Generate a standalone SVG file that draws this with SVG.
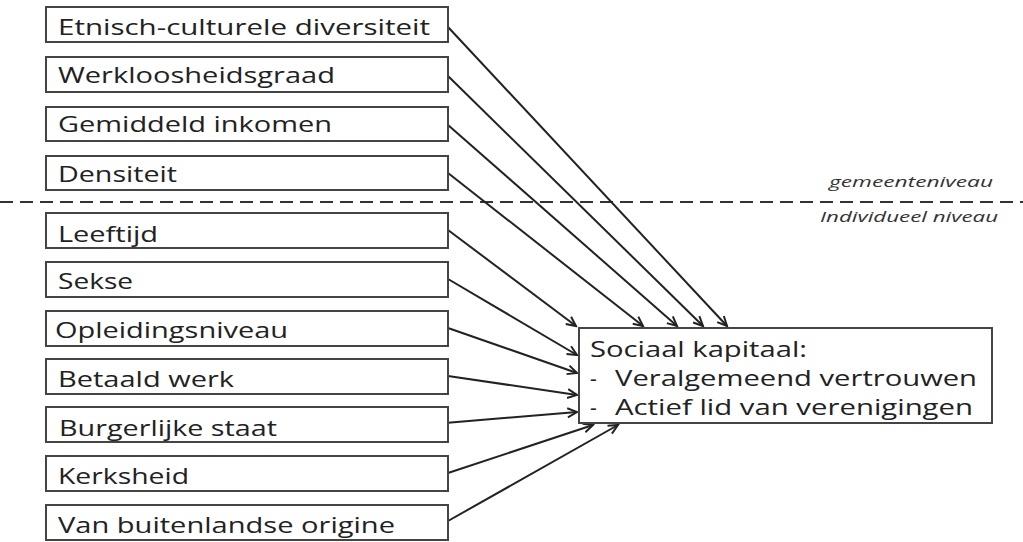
<svg xmlns="http://www.w3.org/2000/svg" width="1023" height="542" viewBox="0 0 1023 542">
<style>
.box{fill:#fff;stroke:#444;stroke-width:2}
.t{font-family:"Open Sans","Noto Sans",sans-serif;font-size:21px;fill:#222}
.lbl{font-family:"Open Sans","Noto Sans",sans-serif;font-size:15px;font-style:italic;fill:#333}
.c{stroke:#222;stroke-width:2;fill:none;marker-end:url(#ah)}
</style>
<defs>
<marker id="ah" markerUnits="userSpaceOnUse" markerWidth="12" markerHeight="12" refX="10" refY="5" orient="auto" viewBox="0 0 12 10">
<path d="M0.5,0.5 L10,5 L0.5,9.5" fill="none" stroke="#222" stroke-width="2"/>
</marker>
</defs>
<rect width="1023" height="542" fill="#fff"/>
<line x1="0" y1="202" x2="1023" y2="202" stroke="#333" stroke-width="2" stroke-dasharray="13,7"/>
<text class="lbl" x="829" y="187" textLength="164" lengthAdjust="spacingAndGlyphs">gemeenteniveau</text>
<text class="lbl" x="820" y="222" textLength="178" lengthAdjust="spacingAndGlyphs">Individueel niveau</text>
<g id="connectors">
<line class="c" x1="448" y1="27" x2="727" y2="326"/>
<line class="c" x1="448" y1="76" x2="703" y2="326"/>
<line class="c" x1="448" y1="125" x2="677" y2="326"/>
<line class="c" x1="448" y1="173" x2="643" y2="326"/>
<line class="c" x1="448" y1="230" x2="576" y2="326"/>
<line class="c" x1="448" y1="279" x2="577" y2="355"/>
<line class="c" x1="448" y1="328" x2="577" y2="373"/>
<line class="c" x1="448" y1="376" x2="577" y2="395"/>
<line class="c" x1="445" y1="423" x2="577" y2="412"/>
<line class="c" x1="448" y1="473" x2="593" y2="425"/>
<line class="c" x1="448" y1="521" x2="618" y2="425"/>
</g>
<g id="n1"><rect class="box" x="46" y="7" width="402" height="35"/><text class="t" x="58" y="35" textLength="372" lengthAdjust="spacingAndGlyphs">Etnisch-culturele diversiteit</text></g>
<g id="n2"><rect class="box" x="46" y="57" width="402" height="35"/><text class="t" x="58" y="83" textLength="277" lengthAdjust="spacingAndGlyphs">Werkloosheidsgraad</text></g>
<g id="n3"><rect class="box" x="46" y="107" width="402" height="34"/><text class="t" x="58" y="132" textLength="274" lengthAdjust="spacingAndGlyphs">Gemiddeld inkomen</text></g>
<g id="n4"><rect class="box" x="46" y="156" width="402" height="34"/><text class="t" x="58" y="182" textLength="119" lengthAdjust="spacingAndGlyphs">Densiteit</text></g>
<g id="n5"><rect class="box" x="46" y="213" width="402" height="35"/><text class="t" x="58" y="242" textLength="100" lengthAdjust="spacingAndGlyphs">Leeftijd</text></g>
<g id="n6"><rect class="box" x="46" y="262" width="402" height="35"/><text class="t" x="58" y="289" textLength="75" lengthAdjust="spacingAndGlyphs">Sekse</text></g>
<g id="n7"><rect class="box" x="46" y="311" width="402" height="35"/><text class="t" x="55" y="338" textLength="233" lengthAdjust="spacingAndGlyphs">Opleidingsniveau</text></g>
<g id="n8"><rect class="box" x="46" y="359" width="402" height="35"/><text class="t" x="58" y="387" textLength="176" lengthAdjust="spacingAndGlyphs">Betaald werk</text></g>
<g id="n9"><rect class="box" x="46" y="407" width="402" height="35"/><text class="t" x="59" y="436" textLength="218" lengthAdjust="spacingAndGlyphs">Burgerlijke staat</text></g>
<g id="n10"><rect class="box" x="46" y="456" width="402" height="35"/><text class="t" x="58" y="484" textLength="131" lengthAdjust="spacingAndGlyphs">Kerksheid</text></g>
<g id="n11"><rect class="box" x="46" y="505" width="402" height="35"/><text class="t" x="58" y="533" textLength="337" lengthAdjust="spacingAndGlyphs">Van buitenlandse origine</text></g>
<g id="target"><rect class="box" x="579" y="328" width="413" height="95"/>
<text class="t" x="590" y="357" textLength="217" lengthAdjust="spacingAndGlyphs">Sociaal kapitaal:</text>
<text class="t" x="590" y="386">-</text><text class="t" x="615" y="386" textLength="362" lengthAdjust="spacingAndGlyphs">Veralgemeend vertrouwen</text>
<text class="t" x="590" y="415">-</text><text class="t" x="615" y="415" textLength="358" lengthAdjust="spacingAndGlyphs">Actief lid van verenigingen</text>
</g>
</svg>
